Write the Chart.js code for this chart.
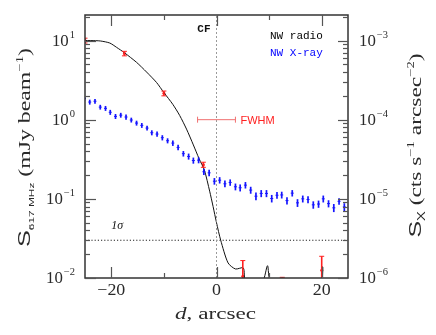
<!DOCTYPE html>
<html>
<head>
<meta charset="utf-8">
<script src="https://cdn.jsdelivr.net/npm/chart.js@4.4.1/dist/chart.umd.min.js"></script>
<style>
html, body { margin: 0; padding: 0; background: #fff; }
</style>
</head>
<body>
<canvas id="c" width="436" height="335"></canvas>
<script>
// ---- data ----
// radio model profile (black line), d in arcsec, S in mJy/beam; 0.009 = below the plot floor
var modelD = [-25, -23, -22, -20.3, -19, -17.5, -15.2, -13.3, -11.4, -10, -8.3, -7, -5.7, -4.4, -3.3, -2.3, -1.3, -0.65, 0, 0.8, 2.2, 3.6, 5.1, 5.55, 8.7, 9.7, 10.4, 19.7, 20.0, 20.2, 20.4, 25];
var modelS = [10.0, 9.95, 9.85, 9.3, 8.2, 7.0, 5.3, 4.0, 2.95, 2.2, 1.56, 1.13, 0.76, 0.48, 0.32, 0.23, 0.125, 0.08, 0.05, 0.03, 0.0155, 0.013, 0.0134, 0.009, 0.009, 0.0143, 0.009, 0.009, 0.0138, 0.0138, 0.009, 0.009];

// radio measurements (red)
var radioD = [-25, -17.5, -10, -2.5, 5, 12.5, 20];
var radioS = [10.0, 6.85, 2.15, 0.27, 0.0105, 0.0097, 0.0125];
var radioErr = [0.7, 0.45, 0.15, 0.02, 0.0061, 0.0005, 0.0063];

// X-ray profile (blue), S in units of 1e-4 cts/s/arcsec^2
var xrayD = [-25.1, -24.1, -23.1, -22.1, -21.1, -20.2, -19.2, -18.2, -17.2, -16.2,
             -15.2, -14.2, -13.2, -12.3, -11.3, -10.3, -9.3, -8.3, -7.3, -6.3,
             -5.3, -4.4, -3.4, -2.4, -1.4, -0.4, 0.6, 1.6, 2.6, 3.6,
             4.5, 5.5, 6.5, 7.5, 8.5, 9.5, 10.5, 11.5, 12.4, 13.4,
             14.4, 15.4, 16.4, 17.4, 18.4, 19.4, 20.3, 21.3, 22.3, 23.3, 24.3];
var xrayS = [1.86, 1.67, 1.71, 1.44, 1.39, 1.24, 1.10, 1.14, 1.08, 0.99,
             0.906, 0.847, 0.783, 0.684, 0.658, 0.592, 0.542, 0.506, 0.446, 0.372,
             0.343, 0.305, 0.308, 0.220, 0.213, 0.167, 0.172, 0.155, 0.161, 0.142,
             0.138, 0.149, 0.129, 0.108, 0.117, 0.117, 0.101, 0.111, 0.112, 0.095,
             0.118, 0.089, 0.100, 0.098, 0.084, 0.086, 0.100, 0.087, 0.077, 0.093, 0.079];
var xrayErr = [0.13, 0.12, 0.12, 0.10, 0.10, 0.09, 0.08, 0.08, 0.08, 0.07,
               0.065, 0.06, 0.055, 0.05, 0.05, 0.045, 0.04, 0.04, 0.035, 0.03,
               0.03, 0.027, 0.027, 0.02, 0.02, 0.016, 0.016, 0.015, 0.015, 0.014,
               0.014, 0.014, 0.013, 0.012, 0.012, 0.012, 0.011, 0.011, 0.011, 0.010,
               0.011, 0.010, 0.010, 0.010, 0.009, 0.009, 0.010, 0.009, 0.009, 0.009, 0.009];
var xrayUnit = 1e-4;

var fwhmHalf = 3.6;      // arcsec, beam FWHM marker drawn at S = 1
var fwhmLevel = 1;
var sigma1 = 0.03;       // 1 sigma noise level

var xTicksMajor = [-20, 0, 20];
var xTicksMinor = [-10, 10];
var yDecades = [-2, -1, 0, 1];
var y2Decades = [-6, -5, -4, -3];

var SERIF = '"Liberation Serif", "Times New Roman", serif';
var SANS = '"Liberation Sans", Arial, sans-serif';
var MONO = '"Liberation Mono", "DejaVu Sans Mono", monospace';
var INK = "#2a2a2a";

function pts(xs, ys, k) {
    return xs.map(function(x, i) { return { x: x, y: ys[i] * (k || 1) }; });
}

function line(ctx, x1, y1, x2, y2) {
    ctx.beginPath(); ctx.moveTo(x1, y1); ctx.lineTo(x2, y2); ctx.stroke();
}

// draw a run of [text, font, dy] pieces, return end x
function pieces(ctx, list, x, y) {
    list.forEach(function(p) {
        ctx.font = p[1];
        ctx.fillText(p[0], x, y + (p[2] || 0));
        x += ctx.measureText(p[0]).width;
    });
    return x;
}
function piecesWidth(ctx, list) {
    var w = 0;
    list.forEach(function(p) { ctx.font = p[1]; w += ctx.measureText(p[0]).width; });
    return w;
}

// "10^e" label, stretched a little like the plotting font
function powLabel(ctx, e, x, y, align) {
    var exp = (e < 0 ? "\u2212" : "") + Math.abs(e);
    var list = [["10", "16px " + SERIF, 0], [exp, "10px " + SERIF, -8]];
    var k = 1.05;
    var w = (piecesWidth(ctx, list) + 1) * k;
    var x0 = align === "right" ? x - w : x;
    ctx.save();
    ctx.translate(x0, y);
    ctx.scale(k, 1);
    ctx.font = "16px " + SERIF;
    ctx.fillText("10", 0, 0);
    var w10 = ctx.measureText("10").width;
    ctx.font = "10px " + SERIF;
    ctx.fillText(exp, w10 + 1, -8);
    ctx.restore();
}

// stretched text centred at cx
function stretched(ctx, list, cx, y, target) {
    var w = piecesWidth(ctx, list);
    var k = target / w;
    ctx.save();
    ctx.translate(cx, y);
    ctx.scale(k, 1);
    pieces(ctx, list, -w / 2, 0);
    ctx.restore();
}

// stretched, rotated title centred on cy
function rotTitle(ctx, list, bx, cy, target) {
    ctx.save();
    ctx.translate(bx, cy);
    ctx.rotate(-Math.PI / 2);
    stretched(ctx, list, 0, 0, target);
    ctx.restore();
}

var errorBars = {
    id: "errorBars",
    afterDatasetsDraw: function(chart) {
        var ctx = chart.ctx, a = chart.chartArea, sx = chart.scales.x;
        ctx.save();
        ctx.beginPath();
        ctx.rect(a.left, a.top, a.right - a.left, a.bottom - a.top);
        ctx.clip();
        chart.data.datasets.forEach(function(ds) {
            if (!ds.errY && !ds.errX) return;
            var sy = chart.scales[ds.yAxisID];
            ctx.strokeStyle = ds.barColor;
            ctx.lineWidth = ds.barWidth;
            ds.data.forEach(function(p, i) {
                var px = sx.getPixelForValue(p.x), py = sy.getPixelForValue(p.y);
                if (ds.errY) {
                    var e = ds.errY[i];
                    var t = sy.getPixelForValue(p.y + e);
                    var b = sy.getPixelForValue(Math.max(p.y - e, sy.min / 10));
                    line(ctx, px, t, px, b);
                    if (ds.cap) {
                        ctx.lineWidth = 1;
                        line(ctx, px - ds.cap, t, px + ds.cap, t);
                        line(ctx, px - ds.cap, b, px + ds.cap, b);
                        ctx.lineWidth = ds.barWidth;
                    }
                    if (ds.tick) {
                        ctx.lineWidth = 1;
                        line(ctx, px - ds.tick, py, px + ds.tick, py);
                        ctx.lineWidth = ds.barWidth;
                    }
                }
                if (ds.errX) {
                    var l = sx.getPixelForValue(p.x - ds.errX[i]);
                    var r = sx.getPixelForValue(p.x + ds.errX[i]);
                    line(ctx, l, py, r, py);
                    line(ctx, l, py - ds.cap, l, py + ds.cap);
                    line(ctx, r, py - ds.cap, r, py + ds.cap);
                }
            });
        });
        ctx.restore();
    }
};

var axesDeco = {
    id: "axesDeco",
    afterDraw: function(chart) {
        var ctx = chart.ctx, a = chart.chartArea;
        var sx = chart.scales.x, sy = chart.scales.y, sy2 = chart.scales.y2;
        ctx.save();

        // frame
        ctx.strokeStyle = "#333";
        ctx.lineWidth = 1.5;
        ctx.strokeRect(a.left, a.top, a.right - a.left, a.bottom - a.top);

        // x ticks (bottom and top, pointing in)
        ctx.strokeStyle = "#555";
        ctx.lineWidth = 1.2;
        xTicksMajor.concat(xTicksMinor).forEach(function(v) {
            var px = Math.round(sx.getPixelForValue(v)) + 0.5;
            var len = xTicksMajor.indexOf(v) >= 0 ? 11 : 5;
            line(ctx, px, a.bottom, px, a.bottom - len);
            line(ctx, px, a.top, px, a.top + len);
        });

        // log ticks, left and right
        yDecades.forEach(function(e) {
            for (var m = 1; m <= 9; m++) {
                var v = m * Math.pow(10, e);
                if (v > sy.max) break;
                var py = Math.round(sy.getPixelForValue(v)) + 0.5;
                line(ctx, a.left, py, a.left + (m === 1 ? 11 : 5), py);
            }
        });
        y2Decades.forEach(function(e) {
            for (var m = 1; m <= 9; m++) {
                var v = m * Math.pow(10, e);
                if (v > sy2.max) break;
                var py = Math.round(sy2.getPixelForValue(v)) + 0.5;
                line(ctx, a.right, py, a.right - (m === 1 ? 10 : 5), py);
            }
        });

        // tick labels
        ctx.fillStyle = INK;
        ctx.textBaseline = "alphabetic";
        ctx.textAlign = "left";
        yDecades.forEach(function(e) {
            powLabel(ctx, e, a.left - 10, sy.getPixelForValue(Math.pow(10, e)) + 5, "right");
        });
        y2Decades.forEach(function(e) {
            powLabel(ctx, e, a.right + 11, sy2.getPixelForValue(Math.pow(10, e)) + 5, "left");
        });
        xTicksMajor.forEach(function(v) {
            var s = v < 0 ? "\u2212" + Math.abs(v) : String(v);
            var list = [[s, "16px " + SERIF, 0]];
            var w = piecesWidth(ctx, list) * 1.12;
            stretched(ctx, list, sx.getPixelForValue(v), a.bottom + 17, w);
        });

        // axis titles
        stretched(ctx, [["d", "italic 17px " + SERIF, 0], [", arcsec", "17px " + SERIF, 0]],
            (a.left + a.right) / 2 - 1, a.bottom + 41, 81);

        var cy = (a.top + a.bottom) / 2;
        rotTitle(ctx, [
            ["S", "17px " + SANS, 0],
            ["617 MHz", "8px " + SANS, 4],
            [" (mJy beam", "16px " + SERIF, 0],
            ["\u22121", "10px " + SERIF, -7],
            [")", "16px " + SERIF, 0]
        ], 30, cy + 1, 199);
        rotTitle(ctx, [
            ["S", "17px " + SANS, 0],
            ["X", "10px " + SANS, 4],
            [" (cts s", "16px " + SERIF, 0],
            ["\u22121", "10px " + SERIF, -7],
            [" arcsec", "16px " + SERIF, 0],
            ["\u22122", "10px " + SERIF, -7],
            [")", "16px " + SERIF, 0]
        ], 421, cy - 1, 184);

        // annotations
        ctx.font = "bold 11px " + MONO;
        ctx.fillStyle = "#111";
        ctx.textAlign = "right";
        ctx.fillText("CF", sx.getPixelForValue(0) - 6, a.top + 17);
        ctx.textAlign = "left";
        ctx.font = "11px " + MONO;
        ctx.fillStyle = "#000";
        ctx.fillText("NW radio", 270, 39);
        ctx.fillStyle = "#0000ff";
        ctx.fillText("NW X-ray", 270, 56);

        ctx.fillStyle = "#ff2020";
        ctx.font = "11px " + SANS;
        ctx.fillText("FWHM", sx.getPixelForValue(fwhmHalf) + 5, sy.getPixelForValue(fwhmLevel) + 4);

        ctx.fillStyle = "#111";
        ctx.font = "italic 12px " + SERIF;
        ctx.fillText("1\u03c3", sx.getPixelForValue(-20), sy.getPixelForValue(sigma1) - 11);

        ctx.restore();
    }
};

new Chart(document.getElementById("c"), {
    type: "line",
    data: {
        datasets: [
            {
                label: "CF",
                data: [{ x: 0, y: 0.01 }, { x: 0, y: 21 }],
                borderColor: "#9a9a9a", borderWidth: 1, borderDash: [2, 2],
                pointRadius: 0, yAxisID: "y", clip: 0
            },
            {
                label: "1 sigma",
                data: [{ x: -25, y: sigma1 }, { x: 25, y: sigma1 }],
                borderColor: "#222", borderWidth: 1.2, borderDash: [1.2, 2],
                pointRadius: 0, yAxisID: "y", clip: 0
            },
            {
                label: "NW X-ray",
                data: pts(xrayD, xrayS, xrayUnit),
                errY: xrayErr.map(function(e) { return e * xrayUnit; }),
                barColor: "#1515ff", barWidth: 1.7, tick: 1.5,
                showLine: false, pointRadius: 0, yAxisID: "y2", clip: 0
            },
            {
                label: "NW radio model",
                data: pts(modelD, modelS),
                borderColor: "#111", borderWidth: 1, tension: 0.25,
                pointRadius: 0, yAxisID: "y", clip: 0
            },
            {
                label: "FWHM",
                data: [{ x: 0, y: fwhmLevel }],
                errX: [fwhmHalf], cap: 3,
                barColor: "#f07070", barWidth: 1,
                showLine: false, pointRadius: 0, yAxisID: "y", clip: 0
            },
            {
                label: "NW radio",
                data: pts(radioD, radioS),
                errY: radioErr, cap: 2.5,
                barColor: "#ff2020", barWidth: 1.6,
                showLine: false, pointRadius: 1.5,
                pointBackgroundColor: "#ff2020", pointBorderWidth: 0,
                yAxisID: "y", clip: 0
            }
        ]
    },
    options: {
        responsive: false,
        devicePixelRatio: 1,
        animation: false,
        events: [],
        layout: { padding: { left: 85, right: 88, top: 15, bottom: 57 } },
        plugins: { legend: { display: false }, tooltip: { enabled: false } },
        scales: {
            x: { type: "linear", min: -25, max: 25, display: false },
            y: { type: "logarithmic", min: 0.01, max: 21, display: false },
            y2: { type: "logarithmic", position: "right", min: 1e-6, max: 2.1e-3, display: false }
        }
    },
    plugins: [errorBars, axesDeco]
});
</script>
</body>
</html>
